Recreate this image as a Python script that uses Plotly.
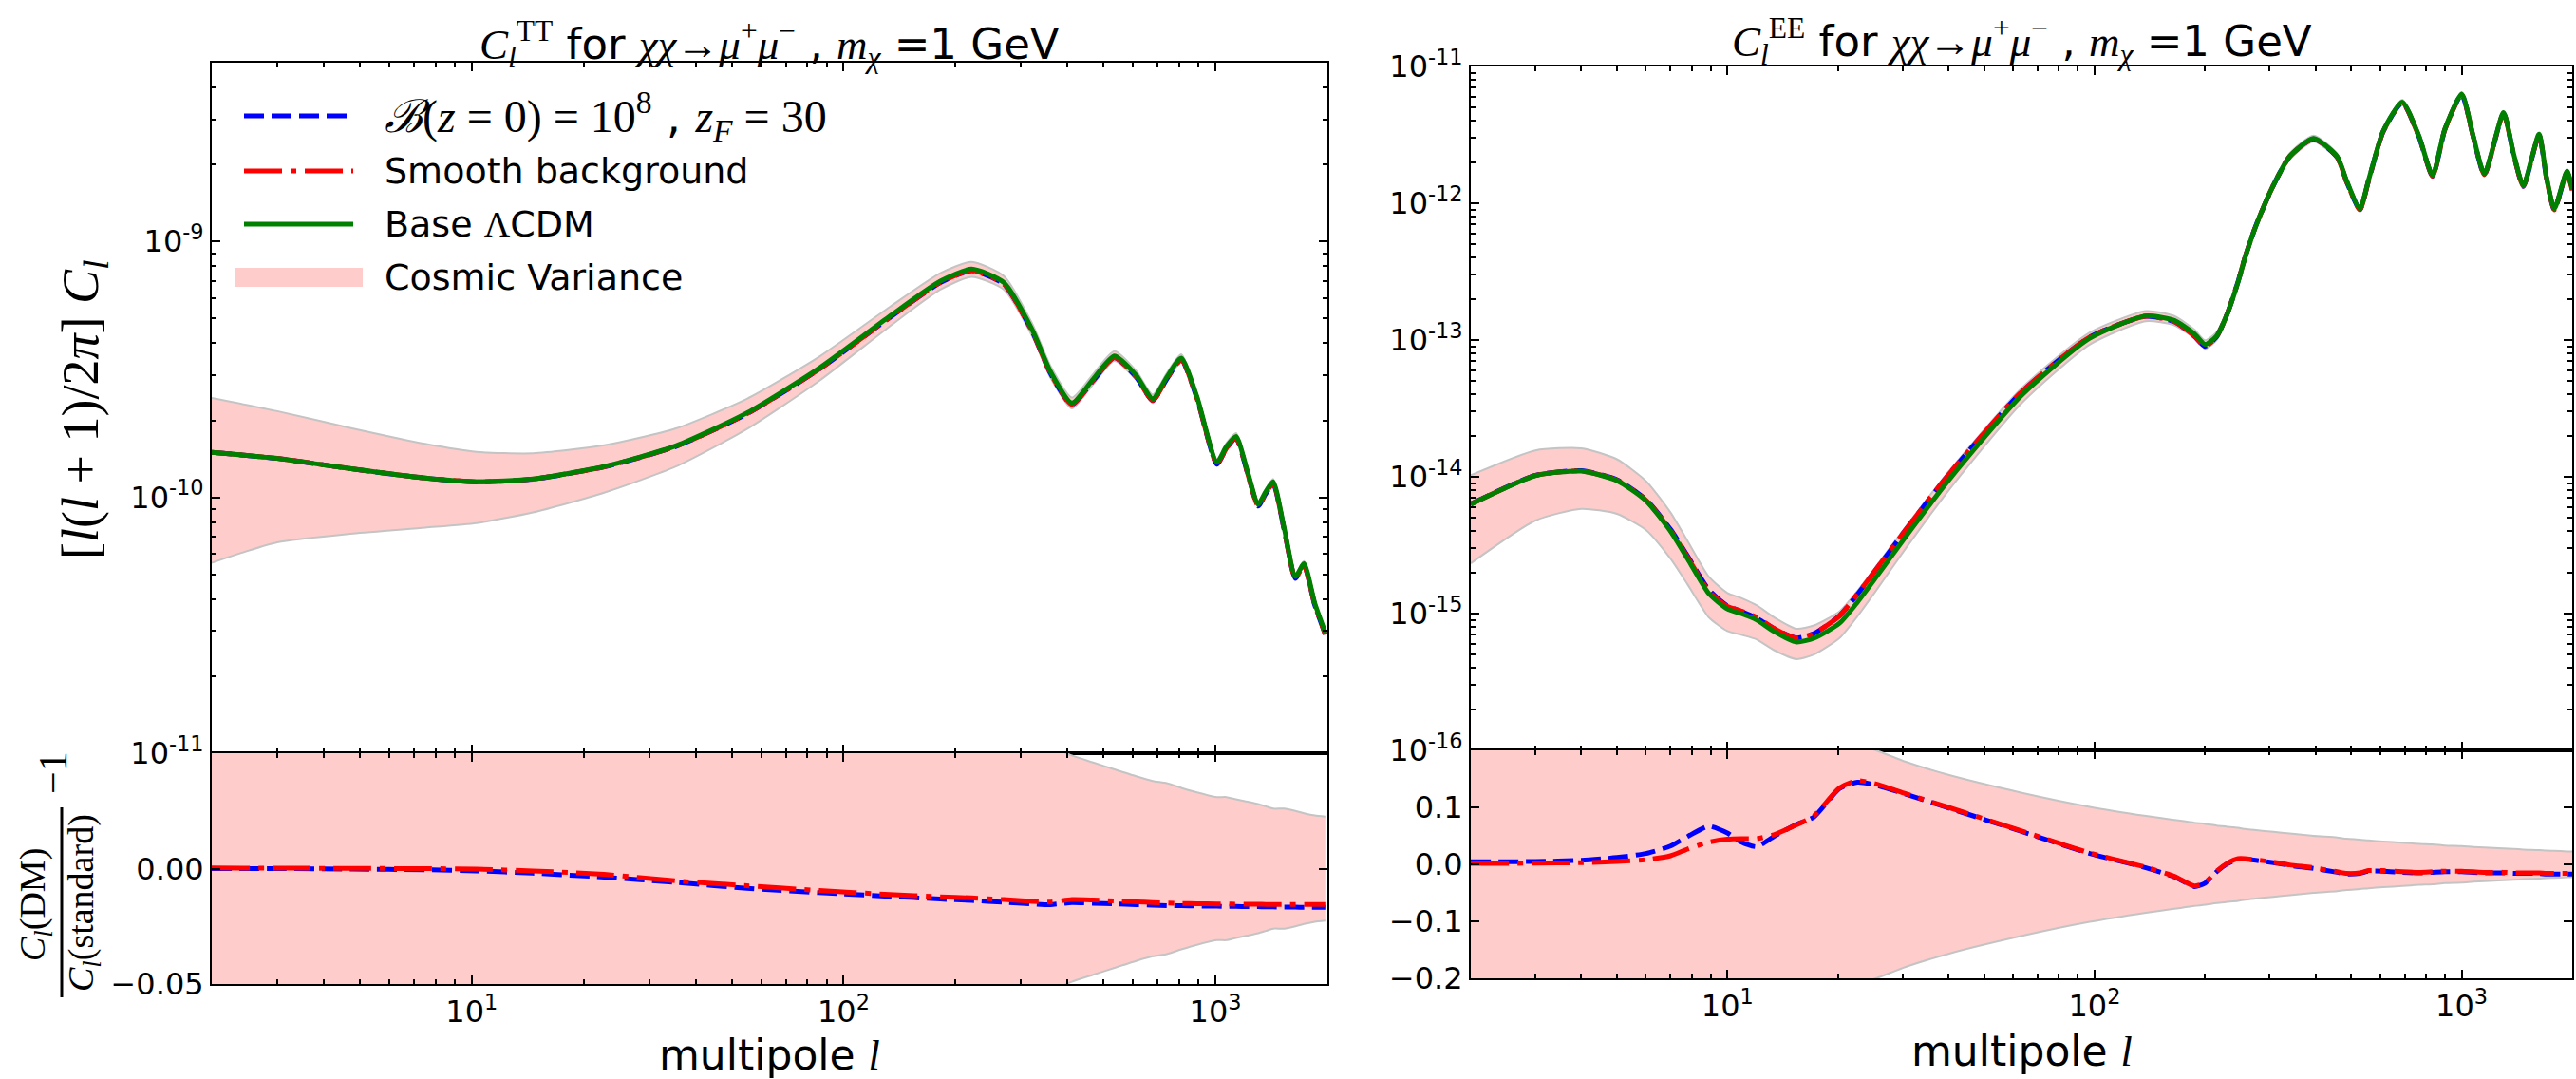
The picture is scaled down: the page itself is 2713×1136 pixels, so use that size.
import math
import plotly.graph_objects as go

W, H = 2713, 1136

# ---------------- data ----------------
l_tt = [2, 3, 4.8, 7.5, 10.3, 14.6, 22.7, 35.4, 55, 86, 133, 182, 221, 270, 322,
        360, 411, 469, 535, 612, 678, 740, 809, 892, 1009, 1070, 1136, 1220, 1303,
        1365, 1429, 1530, 1640, 1730, 1850, 1974]
tt_base = [1.50e-10, 1.42e-10, 1.29e-10, 1.19e-10, 1.15e-10, 1.18e-10, 1.32e-10, 1.59e-10,
           2.14e-10, 3.2e-10, 5.1e-10, 7.0e-10, 7.8e-10, 6.9e-10, 4.5e-10, 3.1e-10,
           2.34e-10, 2.9e-10, 3.57e-10, 3.0e-10, 2.43e-10, 2.95e-10, 3.5e-10, 2.47e-10,
           1.37e-10, 1.58e-10, 1.73e-10, 1.26e-10, 9.4e-11, 1.05e-10, 1.15e-10, 7.6e-11,
           4.9e-11, 5.5e-11, 3.85e-11, 2.96e-11]
tt_res_dm = [0.0, 0.0, -0.0002, -0.0005, -0.0010, -0.0020, -0.0037, -0.0060, -0.0085,
             -0.0104, -0.0120, -0.0132, -0.0138, -0.0146, -0.0153, -0.0156, -0.0147,
             -0.0150, -0.0153, -0.0156, -0.0158, -0.0160, -0.0161, -0.0162, -0.0163,
             -0.0164, -0.0164, -0.0165, -0.0165, -0.0166, -0.0166, -0.0167, -0.0167,
             -0.0168, -0.0168, -0.0168]
tt_res_smooth = [0.0003, 0.0002, 0.0001, 0.0, -0.0002, -0.0010, -0.0025, -0.0053, -0.0074,
                 -0.0095, -0.0112, -0.0122, -0.0127, -0.0134, -0.0142, -0.0145, -0.0134,
                 -0.0136, -0.0140, -0.0144, -0.0147, -0.0149, -0.0151, -0.0152, -0.0153,
                 -0.0153, -0.0154, -0.0154, -0.0154, -0.0155, -0.0155, -0.0155, -0.0155,
                 -0.0155, -0.0155, -0.0155]
tt_cv = [0.63, 0.53, 0.44, 0.36, 0.31, 0.26, 0.21, 0.17, 0.135, 0.108, 0.087, 0.074, 0.067,
         0.061, 0.056, 0.053, 0.049, 0.046, 0.043, 0.040, 0.038, 0.037, 0.035, 0.033, 0.031,
         0.031, 0.030, 0.029, 0.028, 0.027, 0.026, 0.026, 0.025, 0.024, 0.023, 0.0225]

l_ee = [2, 3, 4, 5, 6, 7, 7.8, 8.9, 10, 10.9, 12, 13.4, 15.4, 17.2, 20.2, 22.6, 25.4, 30.6,
        40, 63, 97, 138, 165, 187, 200, 215, 230, 246, 257, 275, 307, 340, 395, 458, 486,
        528, 557, 611, 689, 765, 833, 900, 1000, 1075, 1153, 1300, 1385, 1472, 1624, 1700,
        1788, 1936, 2000]
ee_base = [6.3e-15, 1.02e-14, 1.10e-14, 9.4e-15, 6.7e-15, 4.0e-15, 2.5e-15, 1.40e-15,
           1.08e-15, 1.0e-15, 9.0e-16, 7.4e-16, 6.2e-16, 6.6e-16, 8.5e-16, 1.21e-15,
           1.84e-15, 3.65e-15, 9.4e-15, 3.9e-14, 1.03e-13, 1.5e-13, 1.39e-13, 1.11e-13,
           9.3e-14, 1.07e-13, 1.56e-13, 2.65e-13, 4.0e-13, 6.8e-13, 1.35e-12, 2.2e-12,
           2.98e-12, 2.2e-12, 1.46e-12, 9.1e-13, 1.46e-12, 3.37e-12, 5.5e-12, 3.1e-12,
           1.6e-12, 3.5e-12, 6.3e-12, 3.1e-12, 1.64e-12, 4.6e-12, 2.3e-12, 1.35e-12,
           3.2e-12, 1.58e-12, 9.1e-13, 1.72e-12, 1.26e-12]
ee_res_dm = [0.0045, 0.005, 0.007, 0.012, 0.019, 0.032, 0.049, 0.067, 0.055, 0.039, 0.031,
             0.049, 0.070, 0.083, 0.133, 0.144, 0.139, 0.123, 0.099, 0.058, 0.019, -0.006,
             -0.022, -0.039, -0.033, -0.013, 0.001, 0.009, 0.009, 0.007, 0.003, -0.002,
             -0.007, -0.014, -0.017, -0.016, -0.012, -0.012, -0.014, -0.015, -0.014, -0.013,
             -0.013, -0.014, -0.015, -0.015, -0.016, -0.016, -0.016, -0.017, -0.017, -0.017,
             -0.017]
ee_res_smooth = [0.0017, 0.002, 0.003, 0.005, 0.008, 0.015, 0.027, 0.039, 0.044, 0.045,
                 0.045, 0.052, 0.069, 0.085, 0.134, 0.147, 0.141, 0.124, 0.100, 0.059,
                 0.020, -0.005, -0.021, -0.038, -0.032, -0.012, 0.002, 0.010, 0.010, 0.008,
                 0.004, -0.001, -0.006, -0.013, -0.016, -0.015, -0.011, -0.011, -0.013,
                 -0.014, -0.013, -0.012, -0.012, -0.013, -0.014, -0.014, -0.015, -0.015,
                 -0.015, -0.016, -0.016, -0.016, -0.016]
ee_cv = [0.63, 0.53, 0.47, 0.43, 0.39, 0.37, 0.35, 0.33, 0.31, 0.30, 0.28, 0.27, 0.25, 0.24,
         0.22, 0.21, 0.20, 0.18, 0.157, 0.126, 0.101, 0.085, 0.078, 0.073, 0.071, 0.068,
         0.066, 0.064, 0.062, 0.060, 0.057, 0.054, 0.050, 0.047, 0.045, 0.0435, 0.042,
         0.040, 0.038, 0.036, 0.035, 0.033, 0.032, 0.0305, 0.0295, 0.028, 0.027, 0.026,
         0.025, 0.024, 0.0236, 0.0227, 0.0224]

x_tickvals = [10, 100, 1000]
x_ticktext = ["10<sup>1</sup>", "10<sup>2</sup>", "10<sup>3</sup>"]
tt_tickvals = [1e-11, 1e-10, 1e-9]
tt_ticktext = ["10<sup>-11</sup>", "10<sup>-10</sup>", "10<sup>-9</sup>"]
ee_tickvals = [1e-16, 1e-15, 1e-14, 1e-13, 1e-12, 1e-11]
ee_ticktext = ["10<sup>-16</sup>", "10<sup>-15</sup>", "10<sup>-14</sup>",
               "10<sup>-13</sup>", "10<sup>-12</sup>", "10<sup>-11</sup>"]
ttres_tickvals = [-0.05, 0.0]
ttres_ticktext = ["\u22120.05", "0.00"]
eeres_tickvals = [-0.2, -0.1, 0.0, 0.1]
eeres_ticktext = ["\u22120.2", "\u22120.1", "0.0", "0.1"]

# ---------------- style ----------------
BLUE, RED, GREEN = "#0000ff", "#ff0000", "#008000"
PINK, GREY = "#ffcccc", "#c4c4c4"
SANS = "DejaVu Sans"
SERIF = "Liberation Serif"
LW = 5
DASH_BLUE = "21px,8px"
DASH_RED = "40px,9px,6px,9px"
SM = 0.6

fig = go.Figure()


def px(x):
    return x / W


def py(y):
    return 1 - y / H


def add_line(xa, ya, x, y, color, dash=None, width=LW):
    fig.add_trace(go.Scatter(
        x=x, y=y, xaxis=xa, yaxis=ya, mode="lines", hoverinfo="skip",
        line=dict(color=color, width=width, dash=dash, shape="spline", smoothing=SM)))


def add_band(xa, ya, x, lo, hi):
    fig.add_trace(go.Scatter(
        x=x, y=lo, xaxis=xa, yaxis=ya, mode="lines", hoverinfo="skip",
        line=dict(color=GREY, width=2, shape="spline", smoothing=SM)))
    fig.add_trace(go.Scatter(
        x=x, y=hi, xaxis=xa, yaxis=ya, mode="lines", hoverinfo="skip",
        fill="tonexty", fillcolor=PINK,
        line=dict(color=GREY, width=2, shape="spline", smoothing=SM)))


# TT main
add_band("x", "y", l_tt, [b * (1 - c) for b, c in zip(tt_base, tt_cv)],
         [b * (1 + c) for b, c in zip(tt_base, tt_cv)])
add_line("x", "y", l_tt, [b * (1 + r) for b, r in zip(tt_base, tt_res_dm)], BLUE, DASH_BLUE)
add_line("x", "y", l_tt, [b * (1 + r) for b, r in zip(tt_base, tt_res_smooth)], RED, DASH_RED)
add_line("x", "y", l_tt, tt_base, GREEN)
# TT residual
add_band("x2", "y2", l_tt, [-c for c in tt_cv], tt_cv)
add_line("x2", "y2", l_tt, tt_res_dm, BLUE, DASH_BLUE)
add_line("x2", "y2", l_tt, tt_res_smooth, RED, DASH_RED)
# EE main
add_band("x3", "y3", l_ee, [b * (1 - c) for b, c in zip(ee_base, ee_cv)],
         [b * (1 + c) for b, c in zip(ee_base, ee_cv)])
add_line("x3", "y3", l_ee, [b * (1 + r) for b, r in zip(ee_base, ee_res_dm)], BLUE, DASH_BLUE)
add_line("x3", "y3", l_ee, [b * (1 + r) for b, r in zip(ee_base, ee_res_smooth)], RED, DASH_RED)
add_line("x3", "y3", l_ee, ee_base, GREEN)
# EE residual
add_band("x4", "y4", l_ee, [-c for c in ee_cv], ee_cv)
add_line("x4", "y4", l_ee, ee_res_dm, BLUE, DASH_BLUE)
add_line("x4", "y4", l_ee, ee_res_smooth, RED, DASH_RED)

# ---------------- axes ----------------
minor_x = [m * 10 ** k for k in range(0, 4) for m in range(2, 10)]
minor_tt = [m * 10.0 ** k for k in range(-11, -8) for m in range(2, 10)]
minor_ee = [m * 10.0 ** k for k in range(-16, -11) for m in range(2, 10)]
TICKFONT = dict(family=SANS, size=32, color="black")


def base_axis(**kw):
    d = dict(showgrid=False, zeroline=False, showline=True, linecolor="black",
             linewidth=2, mirror="allticks", ticks="inside", ticklen=9, tickwidth=1.5,
             tickcolor="black", tickfont=TICKFONT, tickmode="array", automargin=False)
    d.update(kw)
    return d


def minor(vals):
    return dict(tickmode="array", tickvals=vals, ticks="inside", ticklen=5,
                tickwidth=1.5, tickcolor="black", showgrid=False)


XR = [math.log10(2), math.log10(2000)]
XL = [px(223), px(1398)]
XRD = [px(1549), px(2709)]

layout = dict(
    width=W, height=H, margin=dict(l=0, r=0, t=0, b=0, pad=0, autoexpand=False),
    paper_bgcolor="white", plot_bgcolor="white", showlegend=False,
    xaxis=base_axis(type="log", range=XR, domain=XL, anchor="y", tickvals=x_tickvals,
                    ticktext=x_ticktext, showticklabels=False, minor=minor(minor_x)),
    yaxis=base_axis(type="log", range=[-11, math.log10(5e-9)], domain=[py(793), py(66)],
                    anchor="x", tickvals=tt_tickvals, ticktext=tt_ticktext,
                    minor=minor(minor_tt)),
    xaxis2=base_axis(type="log", range=XR, domain=XL, anchor="y2", tickvals=x_tickvals,
                     ticktext=x_ticktext, minor=minor(minor_x)),
    yaxis2=base_axis(range=[-0.05, 0.05], domain=[py(1036), py(793)], anchor="x2",
                     tickvals=ttres_tickvals, ticktext=ttres_ticktext),
    xaxis3=base_axis(type="log", range=XR, domain=XRD, anchor="y3", tickvals=x_tickvals,
                     ticktext=x_ticktext, showticklabels=False, minor=minor(minor_x)),
    yaxis3=base_axis(type="log", range=[-16, -11], domain=[py(790), py(70)], anchor="x3",
                     tickvals=ee_tickvals, ticktext=ee_ticktext, minor=minor(minor_ee)),
    xaxis4=base_axis(type="log", range=XR, domain=XRD, anchor="y4", tickvals=x_tickvals,
                     ticktext=x_ticktext, minor=minor(minor_x)),
    yaxis4=base_axis(range=[-0.2, 0.2], domain=[py(1030), py(790)], anchor="x4",
                     tickvals=eeres_tickvals, ticktext=eeres_ticktext),
)
fig.update_layout(**layout)


def sf(s):
    return '<span style="font-family:Liberation Serif">' + s + "</span>"


annotations = []
shapes = []


def ann(x, y, text, size, family=SANS, angle=0, xanchor="center", yanchor="middle"):
    annotations.append(dict(x=px(x), y=py(y), xref="paper", yref="paper", text=text,
                            showarrow=False, textangle=angle, xanchor=xanchor,
                            yanchor=yanchor, font=dict(family=family, size=size,
                                                       color="black")))


proc = sf("<i>\u03c7\u03c7</i>\u2192<i>\u03bc</i><sup>+</sup><i>\u03bc</i><sup>\u2212</sup>")
mchi = sf("<i>m<sub>\u03c7</sub></i>")
title_tt = (sf("<i>C<sub>l</sub></i><sup>TT</sup>") + " for " + proc + " , " + mchi
            + " =1 GeV")
title_ee = (sf("<i>C<sub>l</sub></i><sup>EE</sup>") + " for " + proc + " , " + mchi
            + " =1 GeV")
ann(810, 46, title_tt, 45)
ann(2129, 44, title_ee, 45)

# x axis titles
xt = "multipole " + sf("<i>l</i>")
ann(810, 1110, xt, 44)
ann(2129, 1106, xt, 44)

# main y title
ann(88, 431, "[<i>l</i>(<i>l</i> + 1)/2<i>\u03c0</i>] <i>C<sub>l</sub></i>", 54,
    family=SERIF, angle=-90)

# residual y title (fraction)
ann(37, 953, "<i>C<sub>l</sub></i>(DM)", 38, family=SERIF, angle=-90)
ann(88, 951, "<i>C<sub>l</sub></i>(standard)", 38, family=SERIF, angle=-90)
ann(56, 814, "\u22121", 42, family=SERIF, angle=-90)
shapes.append(dict(type="line", xref="paper", yref="paper", x0=px(65), x1=px(65),
                   y0=py(850), y1=py(1050), line=dict(color="black", width=3)))

# legend
leg_rows = [122, 180, 236, 292]
leg_x0, leg_x1 = 257, 372
shapes.append(dict(type="line", xref="paper", yref="paper", x0=px(leg_x0), x1=px(leg_x1),
                   y0=py(leg_rows[0]), y1=py(leg_rows[0]),
                   line=dict(color=BLUE, width=LW, dash=DASH_BLUE)))
shapes.append(dict(type="line", xref="paper", yref="paper", x0=px(leg_x0), x1=px(leg_x1),
                   y0=py(leg_rows[1]), y1=py(leg_rows[1]),
                   line=dict(color=RED, width=LW, dash=DASH_RED)))
shapes.append(dict(type="line", xref="paper", yref="paper", x0=px(leg_x0), x1=px(leg_x1),
                   y0=py(leg_rows[2]), y1=py(leg_rows[2]),
                   line=dict(color=GREEN, width=LW)))
shapes.append(dict(type="rect", xref="paper", yref="paper", x0=px(248), x1=px(382),
                   y0=py(leg_rows[3] + 10), y1=py(leg_rows[3] - 10),
                   fillcolor=PINK, line=dict(width=0)))
leg_texts = [
    sf("<i>\u212c</i>(<i>z</i> = 0) = 10<sup>8</sup>") + " , " + sf("<i>z<sub>F</sub></i> = 30"),
    "Smooth background",
    "Base " + sf("\u039b") + "CDM",
    "Cosmic Variance",
]
leg_sizes = [48, 38, 38, 38]
for yy, t, s in zip(leg_rows, leg_texts, leg_sizes):
    ann(403, yy, t, s, xanchor="left")

fig.update_layout(annotations=annotations, shapes=shapes)
fig.write_html("out.html")
